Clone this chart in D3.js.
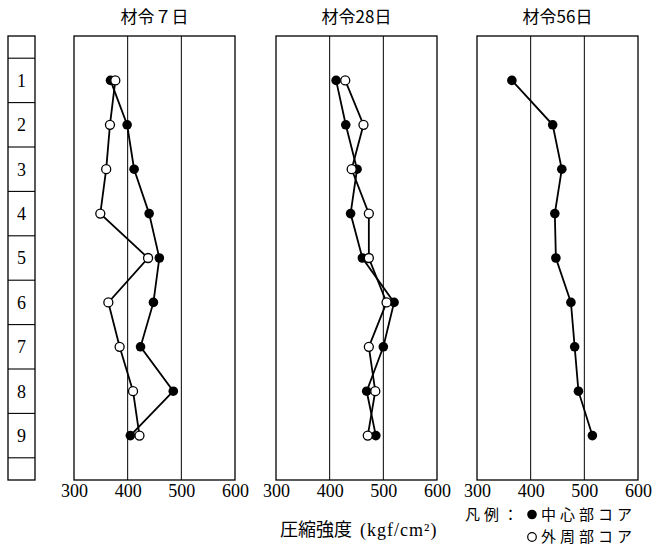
<!DOCTYPE html>
<html><head><meta charset="utf-8">
<script src="https://cdn.jsdelivr.net/npm/d3@7"></script>
<style>
html,body{margin:0;padding:0;background:#fff;}
svg{display:block;}
</style></head>
<body>
<script>
// ---- data ----
const rows = [1, 2, 3, 4, 5, 6, 7, 8, 9];
const titles = ["材令７日", "材令28日", "材令56日"];
const xTicks = [300, 400, 500, 600];
const gridVals = [400, 500];
const core7   = [368, 399, 412, 440, 459, 448, 424, 485, 405];
const outer7  = [377, 367, 360, 349, 438, 364, 385, 410, 422];
const core28  = [412, 430, 451, 439, 461, 520, 500, 469, 486];
const outer28 = [429, 463, 441, 473, 473, 506, 473, 485, 471];
const core56  = [365, 441, 458, 445, 447, 475, 482, 489, 515];
const panels = [
  {title: titles[0], core: core7, outer: outer7},
  {title: titles[1], core: core28, outer: outer28},
  {title: titles[2], core: core56, outer: null}
];
const axisLabel = "圧縮強度";
const axisUnit = "(kgf/cm²)";
const legendTitle = "凡例：";
const legendCore = "中心部コア";
const legendOuter = "外周部コア";

// ---- layout ----
const W = 652, H = 547;
const topY = 36, bottomY = 480;
const lefts = [74, 276, 477], pw = 161;
const cjk = "'Noto Sans CJK JP', 'Noto Sans CJK SC', sans-serif";
const serif = "'Liberation Serif', 'DejaVu Serif', serif";

const svg = d3.select("body").append("svg").attr("width", W).attr("height", H);
svg.append("rect").attr("width", W).attr("height", H).attr("fill", "#fff");

const y = d3.scaleLinear().domain([0, 10]).range([topY, bottomY]);

// left row column
const col = svg.append("g");
col.append("rect").attr("x", 8).attr("y", topY).attr("width", 27).attr("height", bottomY - topY)
  .attr("fill", "none").attr("stroke", "#000").attr("stroke-width", 1.3);
col.selectAll("line.div").data(d3.range(0.5, 10, 1)).join("line")
  .attr("x1", 8).attr("x2", 35).attr("y1", d => y(d)).attr("y2", d => y(d))
  .attr("stroke", "#000").attr("stroke-width", 1.1);
col.selectAll("text").data(rows).join("text")
  .attr("x", 21.5).attr("y", d => y(d)).attr("dy", "0.35em")
  .attr("text-anchor", "middle").attr("font-family", serif).attr("font-size", 18)
  .text(d => d);

panels.forEach((p, i) => {
  const x = d3.scaleLinear().domain([300, 600]).range([lefts[i], lefts[i] + pw]);
  const g = svg.append("g");
  g.selectAll("line.grid").data(gridVals).join("line")
    .attr("x1", d => x(d)).attr("x2", d => x(d)).attr("y1", topY).attr("y2", bottomY)
    .attr("stroke", "#000").attr("stroke-width", 1);
  g.append("rect").attr("x", x(300)).attr("y", topY).attr("width", x(600) - x(300)).attr("height", bottomY - topY)
    .attr("fill", "none").attr("stroke", "#000").attr("stroke-width", 1.3);
  const ax = g.append("g").attr("transform", `translate(0,${bottomY})`)
    .call(d3.axisBottom(x).tickValues(xTicks).tickSize(0).tickFormat(d3.format("d")));
  ax.select(".domain").remove();
  ax.selectAll("text").attr("dy", null).attr("y", 17)
    .attr("font-family", serif).attr("font-size", 18).attr("fill", "#000");
  g.append("text").attr("x", (x(300) + x(600)) / 2).attr("y", 17).attr("dy", "0.35em")
    .attr("text-anchor", "middle").attr("font-family", cjk).attr("font-size", 17)
    .text(p.title);
  const line = d3.line().x(d => x(d[0])).y(d => y(d[1]));
  const series = [p.core, p.outer].filter(Boolean);
  series.forEach(s => {
    g.append("path").datum(s.map((v, k) => [v, rows[k]]))
      .attr("d", line).attr("fill", "none").attr("stroke", "#000").attr("stroke-width", 1.8);
  });
  g.selectAll("circle.core").data(p.core).join("circle")
    .attr("cx", d => x(d)).attr("cy", (d, k) => y(rows[k])).attr("r", 4.8).attr("fill", "#000");
  if (p.outer) {
    g.selectAll("circle.outer").data(p.outer).join("circle")
      .attr("cx", d => x(d)).attr("cy", (d, k) => y(rows[k])).attr("r", 4.5)
      .attr("fill", "#fff").attr("stroke", "#000").attr("stroke-width", 1.3);
  }
});

const at = svg.append("text").attr("x", 280).attr("y", 530).attr("dy", "0.35em").attr("font-size", 18);
at.append("tspan").attr("font-family", cjk).text(axisLabel);
at.append("tspan").attr("font-family", serif).attr("dx", 8).attr("letter-spacing", 1).text(axisUnit);

const ly1 = 514.5, ly2 = 537;
svg.append("text").attr("x", 465).attr("y", ly1).attr("dy", "0.35em")
  .attr("font-family", cjk).attr("font-size", 15).attr("letter-spacing", 4).text(legendTitle);
svg.append("circle").attr("cx", 532).attr("cy", ly1).attr("r", 4.8).attr("fill", "#000");
svg.append("text").attr("x", 541).attr("y", ly1).attr("dy", "0.35em")
  .attr("font-family", cjk).attr("font-size", 15).attr("letter-spacing", 4).text(legendCore);
svg.append("circle").attr("cx", 532).attr("cy", ly2).attr("r", 4.3)
  .attr("fill", "#fff").attr("stroke", "#000").attr("stroke-width", 1.2);
svg.append("text").attr("x", 541).attr("y", ly2).attr("dy", "0.35em")
  .attr("font-family", cjk).attr("font-size", 15).attr("letter-spacing", 4).text(legendOuter);
</script>
</body></html>
